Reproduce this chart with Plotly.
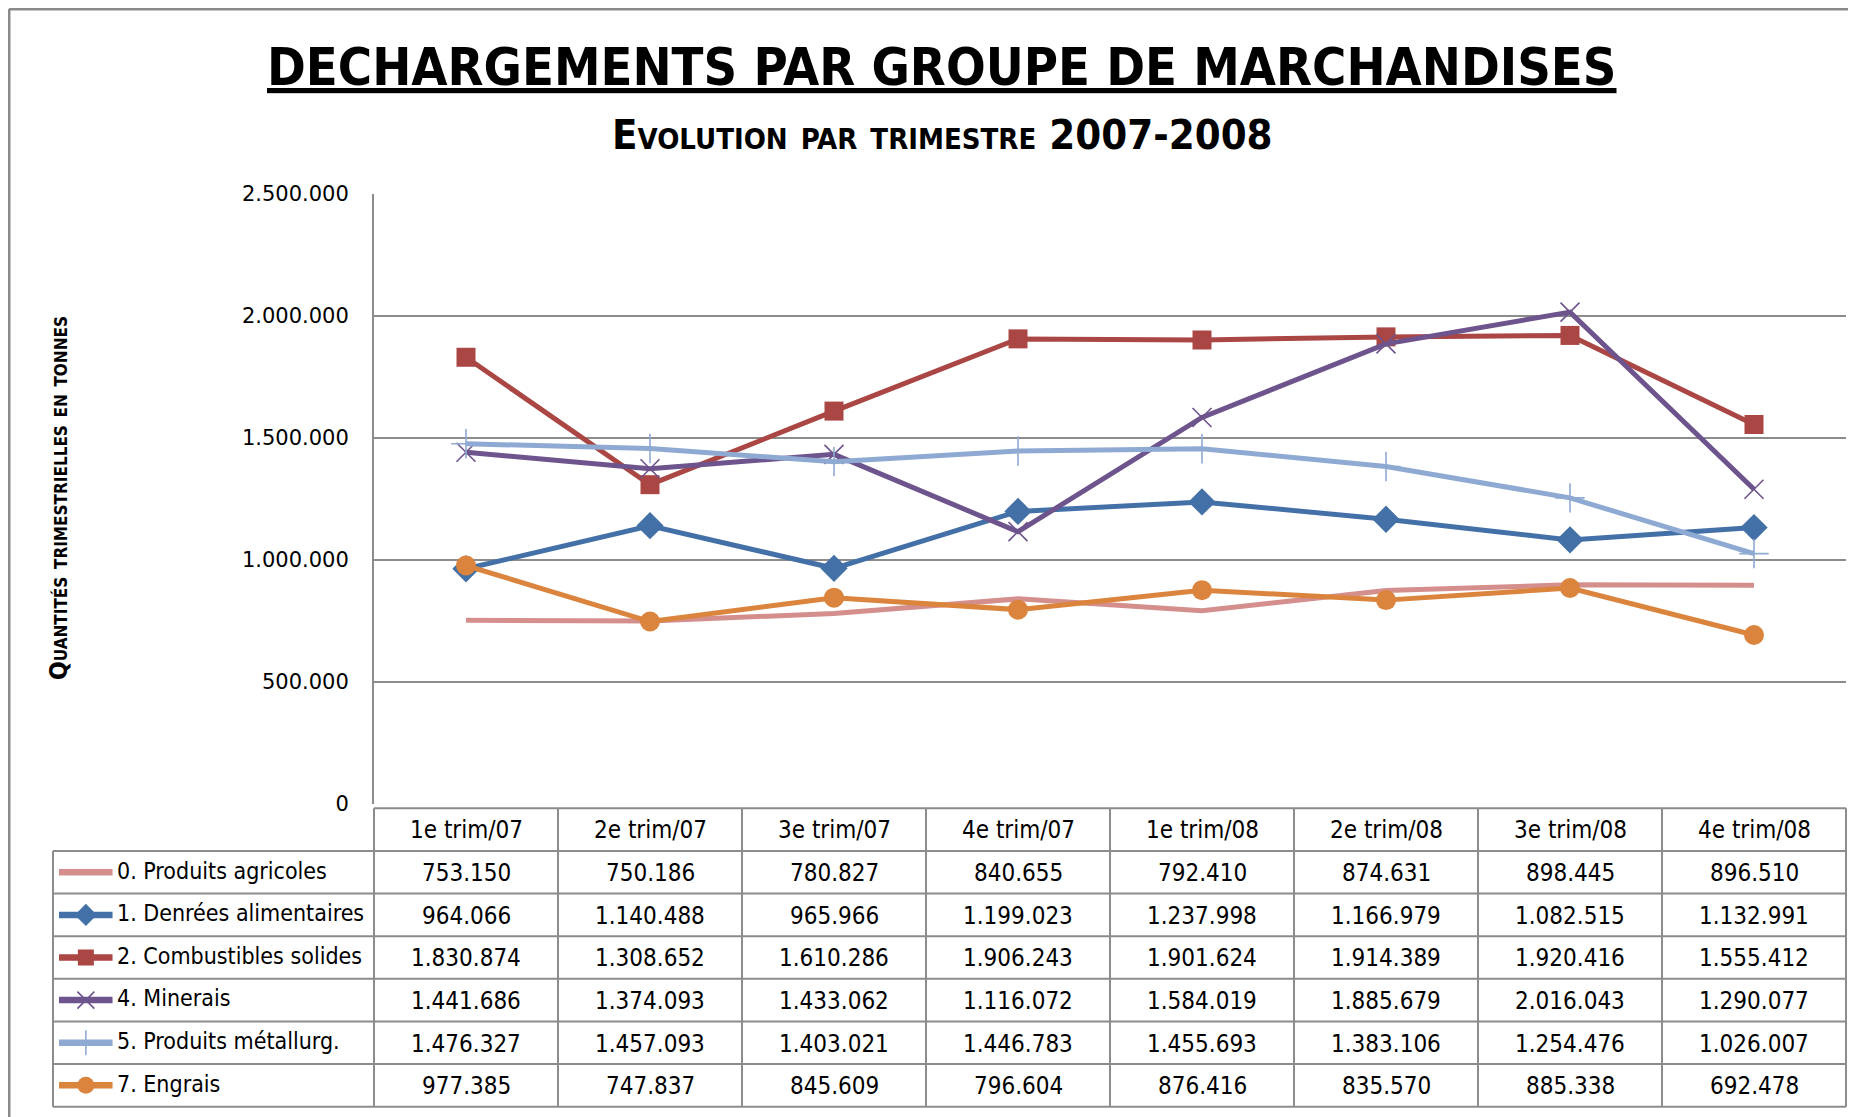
import plotly.graph_objects as go

# ---------------- data ----------------
quarters = ["1e trim/07", "2e trim/07", "3e trim/07", "4e trim/07",
            "1e trim/08", "2e trim/08", "3e trim/08", "4e trim/08"]
series_names = ["0. Produits agricoles", "1. Denrées alimentaires", "2. Combustibles solides",
                "4. Minerais", "5. Produits métallurg.", "7. Engrais"]
produits_agricoles = [753150, 750186, 780827, 840655, 792410, 874631, 898445, 896510]
denrees_alimentaires = [964066, 1140488, 965966, 1199023, 1237998, 1166979, 1082515, 1132991]
combustibles_solides = [1830874, 1308652, 1610286, 1906243, 1901624, 1914389, 1920416, 1555412]
minerais = [1441686, 1374093, 1433062, 1116072, 1584019, 1885679, 2016043, 1290077]
produits_metallurg = [1476327, 1457093, 1403021, 1446783, 1455693, 1383106, 1254476, 1026007]
engrais = [977385, 747837, 845609, 796604, 876416, 835570, 885338, 692478]
y_tick_values = [0, 500000, 1000000, 1500000, 2000000, 2500000]

series_values = [produits_agricoles, denrees_alimentaires, combustibles_solides,
                 minerais, produits_metallurg, engrais]

# ---------------- styles ----------------
colors = ["#D48F8D", "#4470A8", "#AA4643", "#6E548D", "#8FAAD2", "#DB843D"]
symbols = [None, "diamond", "square", "x-thin", "cross-thin", "circle"]
msizes = [0, 21, 19, 19, 21, 20]
leg_msizes = [0, 17, 16, 17, 18, 17]

# page is offset by the 8px body margin: figure coordinates = screen - 8
OFF = 8
W, H = 1856 - OFF, 1117 - OFF
COND = "DejaVu Sans Condensed, DejaVu Sans, sans-serif"
GRID = "#8C8C8C"

# plot area geometry (screen pixels)
PL, PR, PT, PB = 374, 1846, 194, 804
TB = 1111
UNIT = (PR - PL) / 8.0
ROW = (TB - PB) / 7.0
LEG_LEFT = -0.5 - (PL - 53) / UNIT

xa, xb = -2.28, 7.53
ya, yb = 7.05, -0.05

def fx(p):
    return (p - OFF) / W

def fy(p):
    return 1 - (p - OFF) / H

fig = go.Figure()

# ---------------- main lines ----------------
for i, (name, vals) in enumerate(zip(series_names, series_values)):
    if symbols[i] is None:
        mode = "lines"
        marker = None
    else:
        mode = "lines+markers"
        thin = symbols[i] in ("x-thin", "cross-thin")
        marker = dict(symbol=symbols[i], size=msizes[i], color=colors[i],
                      line=dict(color=colors[i], width=1.6 if thin else 0))
    fig.add_trace(go.Scatter(
        x=quarters, y=vals, name=name, mode=mode,
        line=dict(color=colors[i], width=5),
        marker=marker, cliponaxis=False, showlegend=False,
        xaxis="x", yaxis="y"))

# ---------------- legend keys inside the table ----------------
for i, name in enumerate(series_names):
    r = i + 1 + 0.5
    fig.add_trace(go.Scatter(
        x=[-2.212, -1.921], y=[r, r], mode="lines",
        line=dict(color=colors[i], width=6.5), showlegend=False,
        hoverinfo="skip", xaxis="x2", yaxis="y2"))
    if symbols[i] is not None:
        thin = symbols[i] in ("x-thin", "cross-thin")
        fig.add_trace(go.Scatter(
            x=[-2.066], y=[r], mode="markers",
            marker=dict(symbol=symbols[i], size=leg_msizes[i], color=colors[i],
                        line=dict(color=colors[i], width=1.6 if thin else 0)),
            showlegend=False, hoverinfo="skip", xaxis="x2", yaxis="y2"))

# ---------------- table grid ----------------
shapes = []
line_style = dict(color=GRID, width=2)
for r in range(1, 8):
    shapes.append(dict(type="line", xref="x2", yref="y2", x0=LEG_LEFT, x1=7.5,
                       y0=r, y1=r, line=line_style))
shapes.append(dict(type="line", xref="x2", yref="y2", x0=-0.5, x1=7.5,
                   y0=0, y1=0, line=line_style))
shapes.append(dict(type="line", xref="x2", yref="y2", x0=LEG_LEFT, x1=LEG_LEFT,
                   y0=1, y1=7, line=line_style))
for k in range(9):
    shapes.append(dict(type="line", xref="x2", yref="y2", x0=-0.5 + k, x1=-0.5 + k,
                       y0=0, y1=7, line=line_style))
# outer chart border
shapes.append(dict(type="line", xref="paper", yref="paper", x0=fx(9), x1=1,
                   y0=fy(9), y1=fy(9), line=dict(color="#8A8A8A", width=3)))
shapes.append(dict(type="line", xref="paper", yref="paper", x0=fx(9), x1=fx(9),
                   y0=fy(9), y1=0, line=dict(color="#8A8A8A", width=3)))

# ---------------- table text ----------------
def fmt(v):
    return f"{v:,}".replace(",", ".")

ann = []
tfont = dict(family=COND, size=24, color="#000000")
lfont = dict(family=COND, size=23, color="#000000")
for j, q in enumerate(quarters):
    ann.append(dict(x=j, y=0.5, xref="x2", yref="y2", text=q, showarrow=False,
                    font=tfont, xanchor="center", yanchor="middle"))
for i, (name, vals) in enumerate(zip(series_names, series_values)):
    r = i + 1 + 0.5
    ann.append(dict(x=-1.905, y=r - 0.04, xref="x2", yref="y2", text=name, showarrow=False,
                    font=lfont, xanchor="left", yanchor="middle"))
    for j, v in enumerate(vals):
        ann.append(dict(x=j, y=r + 0.02, xref="x2", yref="y2", text=fmt(v), showarrow=False,
                        font=tfont, xanchor="center", yanchor="middle"))

# titles
ann.append(dict(x=fx(942), y=fy(67), xref="paper", yref="paper",
                text="<b>DECHARGEMENTS PAR GROUPE DE MARCHANDISES</b>",
                showarrow=False, xanchor="center", yanchor="middle",
                font=dict(family=COND, size=52, color="#000000", lineposition="under")))
ann.append(dict(x=fx(942), y=fy(135), xref="paper", yref="paper",
                text="<b>Evolution par trimestre 2007-2008</b>",
                showarrow=False, xanchor="center", yanchor="middle",
                font=dict(family=COND, size=41.5, color="#000000", variant="small-caps")))
ann.append(dict(x=fx(59), y=fy(498), xref="paper", yref="paper",
                text="<b>Quantités trimestrielles en tonnes</b>", textangle=-90,
                showarrow=False, xanchor="center", yanchor="middle",
                font=dict(family=COND, size=24.5, color="#000000", variant="small-caps")))

fig.update_layout(
    width=W, height=H,
    margin=dict(l=0, r=0, t=0, b=0, autoexpand=False),
    paper_bgcolor="white", plot_bgcolor="rgba(0,0,0,0)",
    separators=",.",
    showlegend=False,
    xaxis=dict(domain=[fx(PL), fx(PR)], type="category", range=[-0.5, 7.5],
               showticklabels=False, showgrid=False, zeroline=False, showline=False,
               fixedrange=True),
    yaxis=dict(domain=[fy(PB), fy(PT)], range=[0, 2500000], tickvals=y_tick_values,
               tickformat=",d", showgrid=True, gridcolor=GRID, gridwidth=2,
               zeroline=False, showline=True, linecolor=GRID, linewidth=2,
               ticks="", ticklabelstandoff=19, automargin=False,
               tickfont=dict(family="DejaVu Sans", size=21, color="#000000")),
    xaxis2=dict(domain=[fx(PL + (xa + 0.5) * UNIT), fx(PL + (xb + 0.5) * UNIT)],
                range=[xa, xb], visible=False, anchor="y2"),
    yaxis2=dict(domain=[fy(TB - (ya - 7) * ROW), fy(PB - yb * ROW)],
                range=[ya, yb], visible=False, anchor="x2"),
    shapes=shapes,
    annotations=ann,
)

fig.write_html("out.html")
